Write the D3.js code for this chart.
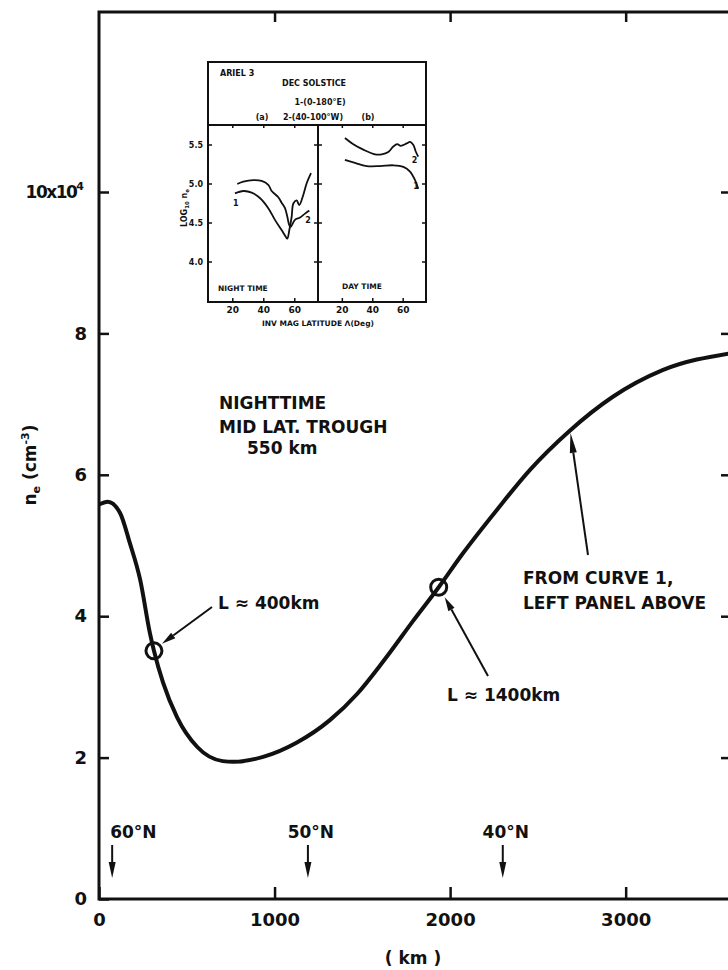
<!DOCTYPE html>
<html>
<head>
<meta charset="utf-8">
<script src="https://cdn.jsdelivr.net/npm/d3@7"></script>
<style>
  body { margin: 0; background: #fff; }
  svg { display: block; }
  text { font-family: "DejaVu Sans", sans-serif; font-weight: bold; fill: #111; }
</style>
</head>
<body>
<svg width="728" height="970"></svg>
<script>
// main curve: nighttime mid-lat trough at 550 km (ne in units of 10^4 cm^-3)
var distKm = [0, 50, 120, 175, 235, 290, 313, 365, 445, 560, 705, 765, 935, 1125, 1315, 1470, 1600, 1655, 1785, 1935, 2070, 2265, 2455, 2680, 2925, 3210, 3600];
var neVal  = [5.58, 5.62, 5.46, 5.04, 4.51, 3.76, 3.51, 3.06, 2.57, 2.15, 1.95, 1.94, 2.01, 2.21, 2.53, 2.90, 3.30, 3.48, 3.92, 4.41, 4.88, 5.50, 6.07, 6.62, 7.10, 7.48, 7.72];

var markerKm = [313, 1935];
var markerNe = [3.51, 4.41];
var markerText = ["L \u2248 400km", "L \u2248 1400km"];

var latText = ["60\u00B0N", "50\u00B0N", "40\u00B0N"];
var latKm = [75, 1190, 2300];

var xTicks = [0, 1000, 2000, 3000];
var xTickLabels = ["0", "1000", "2000", "3000"];
var yTicks = [0, 2, 4, 6, 8, 10];
var yTickLabels = ["0", "2", "4", "6", "8", "10x10"];

// inset (Ariel 3, Dec solstice), log10 ne vs inv. mag. latitude
var nightLat1 = [21.4, 26.8, 32.2, 37.5, 42.9, 47.2, 51.5, 54.3, 55.2, 56.5, 58.0, 59.1, 61.2, 62.9, 65.5, 67.7, 70.5];
var nightLog1 = [4.88, 4.91, 4.89, 4.82, 4.69, 4.54, 4.41, 4.32, 4.30, 4.41, 4.58, 4.75, 4.79, 4.73, 4.86, 5.01, 5.14];
var nightLat2 = [22.9, 26.8, 33.2, 38.6, 42.9, 45.1, 49.4, 51.5, 53.7, 55.2, 56.5, 57.4, 60.1, 63.4, 66.6, 69.4];
var nightLog2 = [5.00, 5.03, 5.05, 5.04, 4.99, 4.91, 4.83, 4.76, 4.69, 4.58, 4.47, 4.45, 4.54, 4.57, 4.62, 4.66];
var dayLat2 = [21.7, 27.2, 33.8, 41.5, 45.9, 50.2, 53.5, 56.1, 58.4, 62.3, 64.5, 66.7, 68.4, 69.9];
var dayLog2 = [5.59, 5.51, 5.44, 5.38, 5.38, 5.41, 5.48, 5.51, 5.49, 5.52, 5.54, 5.50, 5.41, 5.35];
var dayLat1 = [21.7, 28.3, 36.0, 44.8, 53.5, 60.1, 64.5, 67.8, 69.9];
var dayLog1 = [5.31, 5.27, 5.23, 5.23, 5.24, 5.22, 5.16, 5.05, 4.94];

var insetLatTicks = [20, 40, 60];
var insetLogTicks = [4.0, 4.5, 5.0, 5.5];
var insetLogLabels = ["4.0", "4.5", "5.0", "5.5"];

var svg = d3.select('svg');

var x = d3.scaleLinear().domain([0, 3600]).range([99, 731]);
var y = d3.scaleLinear().domain([0, 10]).range([899, 192]);
var frameTop = 12;

function arrow(g, x1, y1, x2, y2, len, w) {
    var dx = x2 - x1, dy = y2 - y1;
    var d = Math.sqrt(dx * dx + dy * dy);
    var ux = dx / d, uy = dy / d;
    var bx = x2 - ux * len, by = y2 - uy * len;
    g.append('line')
        .attr('x1', x1).attr('y1', y1).attr('x2', bx).attr('y2', by)
        .attr('stroke', '#111').attr('stroke-width', 2);
    g.append('path')
        .attr('d', 'M' + x2 + ',' + y2 + 'L' + (bx - uy * w) + ',' + (by + ux * w) + 'L' + (bx + uy * w) + ',' + (by - ux * w) + 'Z')
        .attr('fill', '#111');
}

// frame
svg.append('rect')
    .attr('x', x(0)).attr('y', frameTop)
    .attr('width', x(3600) - x(0)).attr('height', y(0) - frameTop)
    .attr('fill', 'none').attr('stroke', '#111').attr('stroke-width', 3);

// axes, ticks pointing inwards
var leftAxis = svg.append('g').attr('transform', 'translate(' + x(0) + ',0)')
    .call(d3.axisLeft(y).tickValues(yTicks).tickSize(-10).tickPadding(12)
        .tickFormat(function(d, i) { return yTickLabels[i]; }));

svg.append('g').attr('transform', 'translate(0,' + y(0) + ')')
    .call(d3.axisBottom(x).tickValues(xTicks).tickSize(-12).tickPadding(14)
        .tickFormat(function(d, i) { return xTickLabels[i]; }));

svg.append('g').attr('transform', 'translate(0,' + frameTop + ')')
    .call(d3.axisTop(x).tickValues([1000, 2000, 3000]).tickSize(-10).tickFormat(''));

svg.append('g').attr('transform', 'translate(' + x(3600) + ',0)')
    .call(d3.axisRight(y).tickValues([2, 4, 6, 8, 10]).tickSize(-10).tickFormat(''));

svg.selectAll('.domain').remove();
svg.selectAll('.tick line').attr('stroke', '#111').attr('stroke-width', 2.5);
svg.selectAll('.tick text').attr('font-size', 18);
svg.selectAll('g').attr('font-family', null).attr('font-size', null);

// 10x10^4 label: condensed, with superscript
var topLab = leftAxis.selectAll('text').filter(function(d) { return d === 10; })
    .attr('letter-spacing', -1.5).attr('font-size', 17).attr('dx', -3);
topLab.append('tspan').attr('dy', -8).attr('font-size', 11).attr('letter-spacing', 0).text('4');

// axis titles
var yl = svg.append('text')
    .attr('transform', 'translate(36,465) rotate(-90)')
    .attr('text-anchor', 'middle').attr('font-size', 17);
yl.append('tspan').text('n');
yl.append('tspan').attr('font-size', 11).attr('dy', 4).text('e');
yl.append('tspan').attr('dy', -4).text(' (cm');
yl.append('tspan').attr('font-size', 11).attr('dy', -7).text('-3');
yl.append('tspan').attr('dy', 7).text(')');

svg.append('text').attr('x', 413).attr('y', 964)
    .attr('text-anchor', 'middle').attr('font-size', 17).text('( km )');

// main curve
var pts = distKm.map(function(d, i) { return [d, neVal[i]]; });
var line = d3.line()
    .x(function(d) { return x(d[0]); })
    .y(function(d) { return y(d[1]); })
    .curve(d3.curveMonotoneX);

svg.append('path').datum(pts)
    .attr('d', line)
    .attr('fill', 'none').attr('stroke', '#111').attr('stroke-width', 4)
    .attr('stroke-linejoin', 'round');

// marked points
svg.selectAll('circle.mark').data(markerKm).enter().append('circle')
    .attr('class', 'mark')
    .attr('cx', function(d) { return x(d); })
    .attr('cy', function(d, i) { return y(markerNe[i]); })
    .attr('r', 8)
    .attr('fill', 'none').attr('stroke', '#111').attr('stroke-width', 3);

var ann = svg.append('g');
// L ~ 400 km
arrow(ann, 212, 607, x(markerKm[0]) + 8, y(markerNe[0]) - 7, 14, 3.5);
ann.append('text').attr('x', 218).attr('y', 609).attr('font-size', 17).text(markerText[0]);
// L ~ 1400 km
arrow(ann, 488, 676, x(markerKm[1]) + 6, y(markerNe[1]) + 10, 14, 3.5);
ann.append('text').attr('x', 447).attr('y', 701).attr('font-size', 17).text(markerText[1]);
// from curve 1
var fromKm = 2680;
var fromNe = neVal[distKm.indexOf(fromKm)];
arrow(ann, 588, 555, x(fromKm) + 1, y(fromNe) + 2, 20, 3.5);
ann.append('text').attr('x', 523).attr('y', 584).attr('font-size', 17).text('FROM  CURVE  1,');
ann.append('text').attr('x', 523).attr('y', 609).attr('font-size', 17).text('LEFT  PANEL  ABOVE');

// title block
ann.append('text').attr('x', 219).attr('y', 409).attr('font-size', 17).text('NIGHTTIME');
ann.append('text').attr('x', 219).attr('y', 433).attr('font-size', 17).text('MID  LAT.  TROUGH');
ann.append('text').attr('x', 247).attr('y', 454).attr('font-size', 17).text('550 km');

// latitude markers
latKm.forEach(function(k, i) {
    arrow(ann, x(k), 845, x(k), 878, 16, 3.5);
    ann.append('text')
        .attr('x', i === 0 ? x(k) - 2 : x(k) + 3)
        .attr('y', 838)
        .attr('text-anchor', i === 0 ? 'start' : 'middle')
        .attr('font-size', 17)
        .text(latText[i]);
});

// ---------- inset ----------
var inset = svg.append('g');
var iL = 208, iR = 426, iT = 62, iH = 125, iB = 302, iM = 318;
var latN = d3.scaleLinear().domain([4, 75]).range([iL, iM]);
var latD = d3.scaleLinear().domain([4, 75]).range([iM, iR]);
var lg = d3.scaleLinear().domain([4.0, 5.5]).range([262, 145]);

inset.append('rect').attr('x', iL).attr('y', iT).attr('width', iR - iL).attr('height', iB - iT)
    .attr('fill', '#fff').attr('stroke', '#111').attr('stroke-width', 2);
inset.append('line').attr('x1', iL).attr('x2', iR).attr('y1', iH).attr('y2', iH)
    .attr('stroke', '#111').attr('stroke-width', 2);
inset.append('line').attr('x1', iM).attr('x2', iM).attr('y1', iH).attr('y2', iB)
    .attr('stroke', '#111').attr('stroke-width', 2);

// header
inset.append('text').attr('x', 220).attr('y', 76).attr('font-size', 8).text('ARIEL 3');
inset.append('text').attr('x', 314).attr('y', 86).attr('font-size', 8).attr('text-anchor', 'middle').text('DEC  SOLSTICE');
inset.append('text').attr('x', 320).attr('y', 105).attr('font-size', 8).attr('text-anchor', 'middle').text('1-(0-180\u00B0E)');
inset.append('text').attr('x', 262).attr('y', 120).attr('font-size', 8).attr('text-anchor', 'middle').text('(a)');
inset.append('text').attr('x', 313).attr('y', 120).attr('font-size', 8).attr('text-anchor', 'middle').text('2-(40-100\u00B0W)');
inset.append('text').attr('x', 368).attr('y', 120).attr('font-size', 8).attr('text-anchor', 'middle').text('(b)');

// inset ticks
insetLogTicks.forEach(function(v, i) {
    [[iL, 4], [iM, -4], [iM, 4], [iR, -4]].forEach(function(t) {
        inset.append('line').attr('x1', t[0]).attr('x2', t[0] + t[1])
            .attr('y1', lg(v)).attr('y2', lg(v)).attr('stroke', '#111').attr('stroke-width', 1.5);
    });
    inset.append('text').attr('x', 203).attr('y', lg(v) + 3)
        .attr('text-anchor', 'end').attr('font-size', 8).text(insetLogLabels[i]);
});
insetLatTicks.forEach(function(v) {
    [latN, latD].forEach(function(sc) {
        inset.append('line').attr('x1', sc(v)).attr('x2', sc(v))
            .attr('y1', iB).attr('y2', iB - 4).attr('stroke', '#111').attr('stroke-width', 1.5);
        inset.append('line').attr('x1', sc(v)).attr('x2', sc(v))
            .attr('y1', iH).attr('y2', iH + 3).attr('stroke', '#111').attr('stroke-width', 1.5);
        inset.append('text').attr('x', sc(v)).attr('y', 313)
            .attr('text-anchor', 'middle').attr('font-size', 9).text(v);
    });
});

var yll = inset.append('text')
    .attr('transform', 'translate(187,208) rotate(-90)')
    .attr('text-anchor', 'middle').attr('font-size', 8);
yll.append('tspan').text('LOG');
yll.append('tspan').attr('font-size', 5.5).attr('dy', 2).text('10');
yll.append('tspan').attr('dy', -2).text(' n');
yll.append('tspan').attr('font-size', 5.5).attr('dy', 2).text('e');

inset.append('text').attr('x', 318).attr('y', 326).attr('text-anchor', 'middle')
    .attr('font-size', 7.5).text('INV  MAG  LATITUDE  \u039B(Deg)');
inset.append('text').attr('x', 218).attr('y', 291).attr('font-size', 7.5).text('NIGHT  TIME');
inset.append('text').attr('x', 342).attr('y', 289).attr('font-size', 7.5).text('DAY  TIME');

function insetCurve(sc, lats, logs) {
    var p = lats.map(function(d, i) { return [d, logs[i]]; });
    inset.append('path').datum(p)
        .attr('d', d3.line()
            .x(function(d) { return sc(d[0]); })
            .y(function(d) { return lg(d[1]); })
            .curve(d3.curveCatmullRom.alpha(0.5)))
        .attr('fill', 'none').attr('stroke', '#111').attr('stroke-width', 1.8);
}
insetCurve(latN, nightLat1, nightLog1);
insetCurve(latN, nightLat2, nightLog2);
insetCurve(latD, dayLat1, dayLog1);
insetCurve(latD, dayLat2, dayLog2);

inset.append('text').attr('x', latN(22)).attr('y', lg(4.72)).attr('font-size', 8).attr('text-anchor', 'middle').text('1');
inset.append('text').attr('x', latN(68.5)).attr('y', lg(4.50)).attr('font-size', 8).attr('text-anchor', 'middle').text('2');
inset.append('text').attr('x', latD(67.5)).attr('y', lg(5.27)).attr('font-size', 8).attr('text-anchor', 'middle').text('2');
inset.append('text').attr('x', latD(68.5)).attr('y', lg(4.94)).attr('font-size', 8).attr('text-anchor', 'middle').text('1');
</script>
</body>
</html>
